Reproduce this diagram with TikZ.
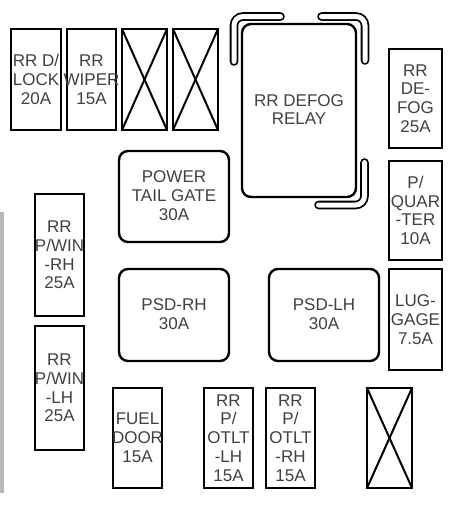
\documentclass[tikz,border=0pt]{standalone}
\usepackage{fontspec}
\setmainfont{Liberation Sans}
\tikzset{
  fusebox/.style={draw=black, line width=2.4pt},
  slotbox/.style={draw=black, line width=2.4pt, rounded corners=9pt},
  crossline/.style={draw=black, line width=2pt},
  tube/.style={draw=black, line width=1.8pt, double=white, double distance=5pt, line cap=round, rounded corners=9pt},
  fusetext/.style={text=black!75, align=center, inner sep=0pt, font=\fontsize{17}{18.8}\selectfont}
}
\begin{document}
\begin{tikzpicture}[x=1pt, y=-1pt]
	\useasboundingbox (0,0) rectangle (474,528);
	% edge of the scan
	\fill[black!28] (0,212) rectangle (4,493);
	% fuses
	\foreach \n/\xa/\ya/\xb/\yb/\t in {
		dlock/11/29/61/130/{RR D/\\LOCK\\20A},
		wiper/67/29/116/130/{RR\\WIPER\\15A},
		defog/389/49/442/148/{RR\\DE-\\FOG\\25A},
		quarter/389/161/442/260/{P/\\QUAR\\-TER\\10A},
		luggage/389/269/442/370/{LUG-\\GAGE\\7.5A},
		pwinrh/35/194/84/316/{RR\\P/WIN\\-RH\\25A},
		pwinlh/35/326/84/450/{RR\\P/WIN\\-LH\\25A},
		fuel/113/388/162/488/{FUEL\\DOOR\\15A},
		otltlh/204/388/253/488/{RR\\P/\\OTLT\\-LH\\15A},
		otltrh/266/388/315/488/{RR\\P/\\OTLT\\-RH\\15A}}
	{
		\draw[fusebox] (\xa,\ya) rectangle (\xb,\yb);
		\node[fusetext] (\n) at ({(\xa+\xb)/2}, {(\ya+\yb)/2}) {\t};
	}
	% empty slots
	\foreach \xa/\ya/\xb/\yb in {122/29/167/130, 173/29/218/130, 367/388/412/488}
	{
		\draw[fusebox] (\xa,\ya) rectangle (\xb,\yb);
		\draw[crossline] (\xa,\ya) -- (\xb,\yb);
		\draw[crossline] (\xa,\yb) -- (\xb,\ya);
	}
	% big fuses and relay
	\foreach \n/\xa/\ya/\xb/\yb/\t in {
		tailgate/119/151/229/242/{POWER\\TAIL GATE\\30A},
		psdrh/119/269/229/361/{PSD-RH\\30A},
		psdlh/269/269/379/361/{PSD-LH\\30A},
		relay/242/24/356/197/{RR DEFOG\\RELAY}}
	{
		\draw[slotbox] (\xa,\ya) rectangle (\xb,\yb);
		\node[fusetext] (\n) at ({(\xa+\xb)/2}, {(\ya+\yb)/2 - 1}) {\t};
	}
	% relay clips
	\draw[tube] (234,61.5) |- (280.5,16.5);
	\draw[tube] (321.5,16.5) -| (365,60.5);
	\draw[tube] (364.5,162.5) |- (318.5,205);
\end{tikzpicture}
\end{document}
